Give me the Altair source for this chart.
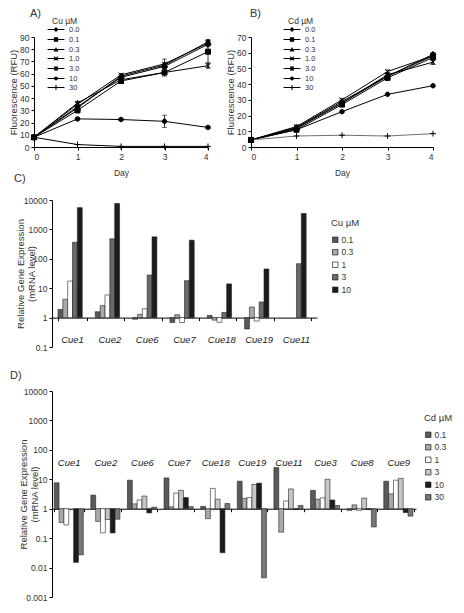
import altair as alt
import pandas as pd
import math

# ---------------- data ----------------
days = [0, 1, 2, 3, 4]
levels = ["0.0", "0.1", "0.3", "1.0", "3.0", "10", "30"]

cu_fluor = {
    "0.0": [8, 33, 57, 66, 84],
    "0.1": [8, 30, 54, 61, 78],
    "0.3": [8, 32, 58, 67, 86],
    "1.0": [8, 35, 59, 68, 85],
    "3.0": [8, 36, 55, 61, 66.5],
    "10": [8, 23, 22.5, 21, 16],
    "30": [8, 2, 0.5, 0.5, 0.5],
}
cu_err = {
    "0.0": [0, 1, 1, 2, 2],
    "0.1": [0, 2, 2, 3, 9],
    "0.3": [0, 1, 1, 2, 2],
    "1.0": [0, 2, 1, 4, 2],
    "3.0": [0, 1, 1, 2, 2],
    "10": [0, 1, 1, 5, 1],
    "30": [0, 0, 0, 0, 0],
}
cd_fluor = {
    "0.0": [4.5, 12, 28, 45, 59],
    "0.1": [4.5, 11, 27, 44, 57],
    "0.3": [4.5, 12.5, 29, 45, 58],
    "1.0": [4.5, 13, 30, 48, 58],
    "3.0": [4.5, 12, 28, 46, 54],
    "10": [4.5, 11, 22.5, 33.5, 39],
    "30": [4.5, 7, 7.5, 7, 8.5],
}
cd_err = {
    "0.0": [0, 1, 1, 1, 1],
    "0.1": [0, 1, 1, 1, 1],
    "0.3": [0, 1, 1, 2, 1],
    "1.0": [0, 1, 1, 1, 1],
    "3.0": [0, 1, 1, 1, 1.5],
    "10": [0, 0, 0, 0, 0],
    "30": [0, 0, 0, 0, 0],
}

genes_c = ["Cue1", "Cue2", "Cue6", "Cue7", "Cue18", "Cue19", "Cue11"]
cu_doses = ["0.1", "0.3", "1", "3", "10"]
cu_expr = {
    "Cue1": [1.9, 4.2, 17.5, 364, 5500],
    "Cue2": [1.58, 2.55, 5.9, 480, 7600],
    "Cue6": [0.88, 1.29, 2.0, 28, 560],
    "Cue7": [0.68, 1.25, 0.68, 18, 430],
    "Cue18": [1.19, 0.82, 0.69, 1.5, 14],
    "Cue19": [0.41, 2.3, 0.76, 3.4, 45],
    "Cue11": [None, None, None, 68, 3500],
}

genes_d = ["Cue1", "Cue2", "Cue6", "Cue7", "Cue18", "Cue19", "Cue11", "Cue3", "Cue8", "Cue9"]
cd_doses = ["0.1", "0.3", "1", "3", "10", "30"]
cd_expr = {
    "Cue1": [7.6, 0.34, 0.28, None, 0.015, 0.027],
    "Cue2": [2.9, 0.37, 0.15, 0.43, 0.15, 0.44],
    "Cue6": [9.3, 1.46, 1.98, 2.7, 0.72, 1.13],
    "Cue7": [11.1, 1.16, 3.4, 4.2, 2.4, 1.18],
    "Cue18": [1.2, 0.46, 4.9, 2.1, 0.032, 1.5],
    "Cue19": [8.6, 2.25, 2.4, 6.7, 7.4, 0.0045],
    "Cue11": [25, 0.16, 1.83, 4.7, 0.93, 1.29],
    "Cue3": [4.2, 2.1, 2.35, 10, 1.98, 1.29],
    "Cue8": [0.88, 1.35, 0.88, 2.3, 0.94, 0.24],
    "Cue9": [8.6, 3.2, 9.3, 10.8, 0.74, 0.56],
}

# ---------------- styles ----------------
FONT = "Liberation Sans"
TXT = "#333333"


def f2(v):
    return f"{v:.3f}"


def seg(x1, y1, x2, y2, t):
    # a thin filled (clockwise) rectangle standing in for a stroked segment
    dx, dy = x2 - x1, y2 - y1
    L = math.hypot(dx, dy)
    nx, ny = dy / L * t, -dx / L * t
    p = [(x1 + nx, y1 + ny), (x2 + nx, y2 + ny), (x2 - nx, y2 - ny), (x1 - nx, y1 - ny)]
    return "M" + "L".join(f"{f2(a)},{f2(b)}" for a, b in p) + "Z"


def diamond(k, t=None): return f"M0,{f2(-k)}L{f2(k)},0L0,{f2(k)}L{f2(-k)},0Z"
def square(k, t=None): return f"M{f2(-k)},{f2(-k)}H{f2(k)}V{f2(k)}H{f2(-k)}Z"
def tri(k, t=None): return f"M0,{f2(-k)}L{f2(k)},{f2(0.8*k)}H{f2(-k)}Z"
def circ(k, t=None): return f"M{f2(k)},0A{f2(k)},{f2(k)} 0 1,1 {f2(-k)},0A{f2(k)},{f2(k)} 0 1,1 {f2(k)},0Z"


def xx(k, t=None):
    if t is None:
        return f"M{-k},{-k}L{k},{k}M{-k},{k}L{k},{-k}"
    return seg(-k, -k, k, k, t) + seg(-k, k, k, -k, t)


def ast(k, t=None):
    if t is None:
        return xx(k) + f"M0,{-1.3*k}V{1.3*k}"
    return xx(k, t) + seg(0, -1.3 * k, 0, 1.3 * k, t)


def plus(k, t=None):
    if t is None:
        return f"M{-k},0H{k}M0,{-k}V{k}"
    return seg(-k, 0, k, 0, t) + seg(0, -k, 0, k, t)


shape_fns = [diamond, square, tri, xx, ast, circ, plus]
shape_k = [1.1, 0.95, 1.1, 0.85, 0.85, 0.85, 1.1]
plot_paths = [f(k) for f, k in zip(shape_fns, shape_k)]
legend_paths = [seg(-2.6, 0, 2.6, 0, 0.15) + f(k * 0.7, 0.17) for f, k in zip(shape_fns, shape_k)]

cu_line_colors = ["#000000"] * 7
cd_line_colors = ["#000000"] * 6 + ["#707070"]
cu_colors = ["#5a5a5a", "#a9a9a9", "#ffffff", "#6a6a6a", "#1c1c1c"]
cd_colors = ["#5a5a5a", "#a9a9a9", "#ffffff", "#c6c6c6", "#1c1c1c", "#777777"]


def line_panel(fluor, err, line_colors, ymax, h, w, title, tdx, toff, leg_title, legx, legy):
    rows = []
    for lv in levels:
        for d, v, e in zip(days, fluor[lv], err[lv]):
            rows.append({"conc": lv, "day": d, "val": v, "lo": v - e, "hi": v + e, "e": e})
    df = pd.DataFrame(rows)

    def xs():
        return alt.X("day:Q", scale=alt.Scale(domain=[0, 4], nice=False),
                     axis=alt.Axis(values=days, format="d", title="Day", titleFontSize=8.5,
                                   titlePadding=8, labelFontSize=8.5))

    def ys(f):
        return alt.Y(f"{f}:Q", scale=alt.Scale(domain=[0, ymax], nice=False),
                     axis=alt.Axis(values=list(range(0, ymax + 1, 10)), title="Fluorescence (RFU)",
                                   titleFontSize=9.5, titlePadding=1, labelFontSize=8.5))

    base = alt.Chart(df)
    ebase = base.transform_filter("datum.e > 0")
    errs = ebase.mark_rule(color="black", strokeWidth=0.8).encode(x=xs(), y=ys("lo"), y2="hi:Q")
    cap_lo = ebase.mark_tick(color="black", thickness=0.8, size=5, orient="horizontal").encode(
        x=xs(), y=ys("lo"))
    cap_hi = ebase.mark_tick(color="black", thickness=0.8, size=5, orient="horizontal").encode(
        x=xs(), y=ys("hi"))
    lines = base.mark_line(strokeWidth=1).encode(
        x=xs(), y=ys("val"),
        color=alt.Color("conc:N", scale=alt.Scale(domain=levels, range=line_colors), legend=None))
    pts = base.mark_point(filled=True, color="black", stroke="black", strokeWidth=1, size=28,
                          opacity=1).encode(
        x=xs(), y=ys("val"),
        shape=alt.Shape("conc:N", scale=alt.Scale(domain=levels, range=plot_paths), legend=None))
    leg = base.transform_filter("false").mark_point(filled=True, color="black", opacity=1).encode(
        x=xs(), y=ys("val"),
        shape=alt.Shape("conc:N", scale=alt.Scale(domain=levels, range=legend_paths),
                        legend=alt.Legend(orient="none", legendX=legx, legendY=legy, title=leg_title,
                                          titleFontSize=8.5, titleFontWeight="normal", titleColor=TXT,
                                          labelFontSize=7.5, labelColor=TXT, symbolSize=42,
                                          labelOffset=9, rowPadding=-9, padding=0, titlePadding=0,
                                          symbolFillColor="black", symbolOpacity=1)))
    return alt.layer(errs, cap_lo, cap_hi, lines, pts, leg).resolve_scale(
        shape="independent").properties(
        width=w, height=h,
        title=alt.TitleParams(title, anchor="start", frame="group", dx=tdx, offset=toff,
                              fontSize=11, fontWeight="normal", color=TXT))


def bar_panel(genes, doses, expr, colors, ymin, ymax, w, h, title, tdx, toff, leg_title, legx, legy,
              pin, pout, label_y, tx):
    rows = []
    for g in genes:
        for d, v in zip(doses, expr[g]):
            if v is not None:
                rows.append({"gene": g, "dose": d, "val": v})
    df = pd.DataFrame(rows)
    dec_total = math.log10(ymax / ymin)
    dec_below = math.log10(1 / ymin)
    yvals = [10 ** p for p in range(round(math.log10(ymin)), round(math.log10(ymax)) + 1)]
    xaxis = alt.Axis(title=None, labels=False, tickBand="extent", tickSize=3,
                     offset=-h * dec_below / dec_total)
    xscale = alt.Scale(paddingInner=pin, paddingOuter=pout)
    yscale = alt.Scale(type="log", domain=[ymin, ymax], nice=False)
    yaxis = alt.Axis(values=yvals, format="~g", labelFontSize=8.5,
                     title=["Relative Gene Expression", "(mRNA level)"],
                     titleFontSize=9.5, titleX=tx, titleY=h / 2,
                     titleBaseline="middle", titleLineHeight=11)
    bars = alt.Chart(df).mark_bar(stroke="#222222", strokeWidth=0.6).encode(
        x=alt.X("gene:N", sort=genes, scale=xscale, axis=xaxis),
        xOffset=alt.XOffset("dose:N", sort=doses, scale=alt.Scale(domain=doses)),
        y=alt.Y("val:Q", scale=yscale, axis=yaxis), y2=alt.datum(1),
        fill=alt.Fill("dose:N", scale=alt.Scale(domain=doses, range=colors),
                      legend=alt.Legend(orient="none", legendX=legx, legendY=legy, title=leg_title,
                                        titleFontSize=9.5, titleFontWeight="normal", titleColor=TXT,
                                        labelFontSize=8.5, labelColor=TXT, symbolType="square",
                                        symbolSize=30, symbolStrokeColor="#222222",
                                        symbolStrokeWidth=0.7, rowPadding=3.5, padding=0,
                                        titlePadding=8, labelOffset=2)))
    labels = alt.Chart(pd.DataFrame({"gene": genes})).mark_text(
        fontStyle="italic", fontSize=9.5, color="#222222").encode(
        x=alt.X("gene:N", sort=genes, scale=xscale, axis=xaxis),
        y=alt.YDatum(label_y, scale=yscale, axis=yaxis),
        text=alt.Text("gene:N"))
    return alt.layer(bars, labels).properties(
        width=w, height=h,
        title=alt.TitleParams(title, anchor="start", frame="group", dx=tdx, offset=toff,
                              fontSize=11, fontWeight="normal", color=TXT))


A = line_panel(cu_fluor, cu_err, cu_line_colors, 90, 110, 174, "A)", -4, -2, "Cu µM", 18, -20)
B = line_panel(cd_fluor, cd_err, cd_line_colors, 70, 110, 182, "B)", -1, -2, "Cd µM", 37, -20)
C = bar_panel(genes_c, cu_doses, cu_expr, cu_colors, 0.1, 10000, 265, 147, "C)", -38, 12,
              "Cu µM", 279, 18, 0.22, 0.16, 0.167, -32)
D = bar_panel(genes_d, cd_doses, cd_expr, cd_colors, 0.001, 10000, 364, 206, "D)", -42, 6,
              "Cd µM", 372, 22, 0.18, 0.06, 35, -29)

spacer = alt.Chart(pd.DataFrame({"s": [0]})).mark_point(opacity=0).encode(
    x=alt.value(0), y=alt.value(0)).properties(width=1, height=1)

top = alt.hconcat(A, B, spacing=12).resolve_scale(shape="independent", color="independent")
cd = alt.vconcat(C, D, spacing=18).resolve_scale(fill="independent")
bottom = alt.hconcat(spacer, cd, spacing=-27).resolve_scale(fill="independent")
chart = alt.vconcat(top, bottom, spacing=-4).resolve_scale(
    shape="independent", fill="independent", color="independent").properties(padding=0).configure(
    font=FONT).configure_view(stroke=None).configure_axis(
    grid=False, domainColor="black", tickColor="black", labelColor=TXT, titleColor=TXT,
    titleFontWeight="normal", tickSize=3, labelPadding=2, domainWidth=1, tickWidth=1)

chart.save("out.html", embed_options={"renderer": "svg", "actions": False})
